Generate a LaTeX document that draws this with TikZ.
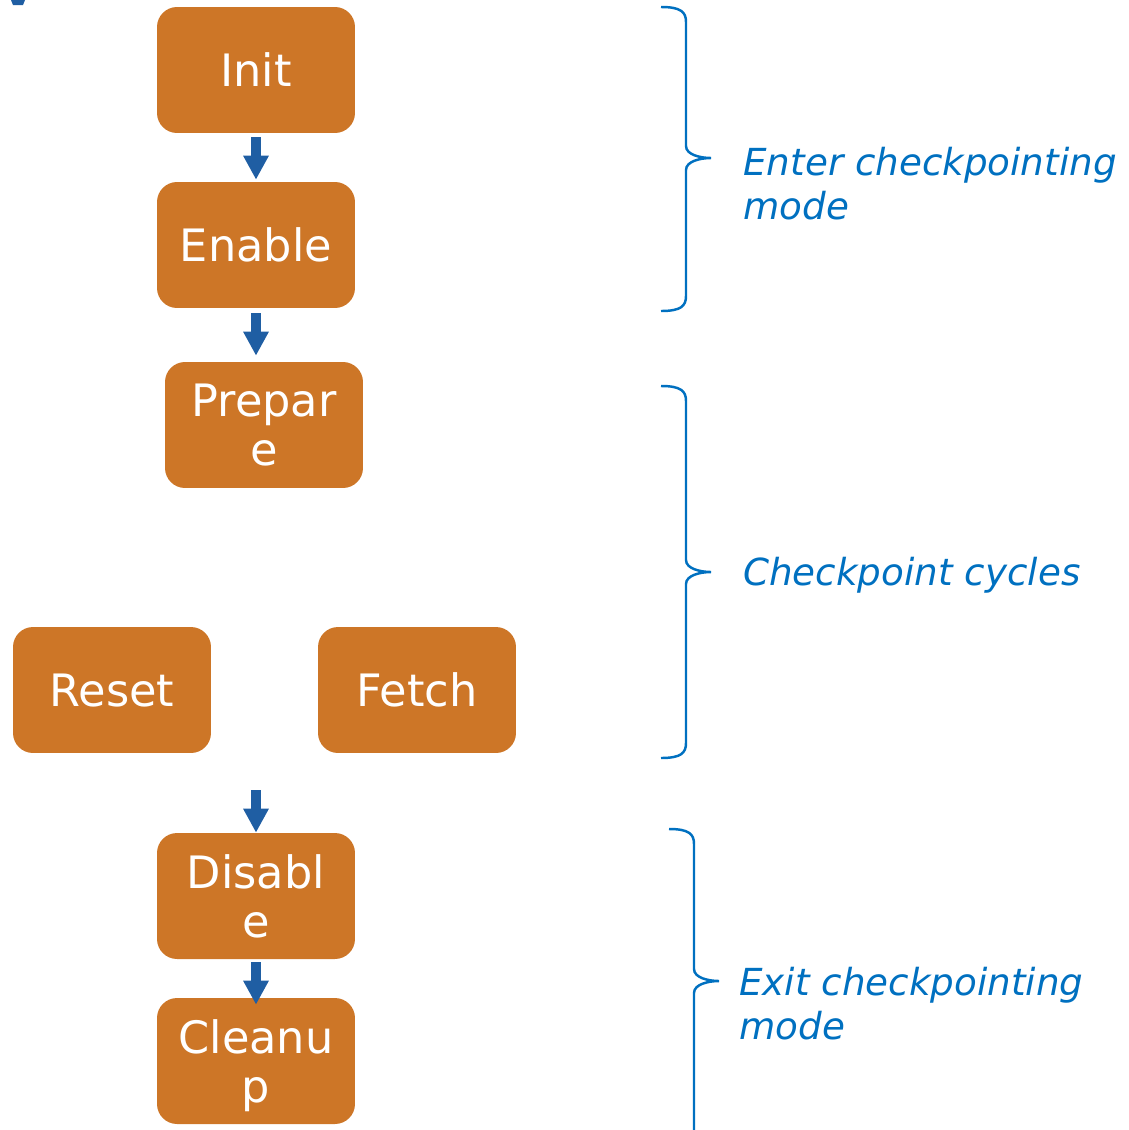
\documentclass[tikz,border=0pt]{standalone}
\usepackage{fontspec}
\setmainfont{DejaVu Sans}
\usetikzlibrary{arrows.meta,calc}
\definecolor{phaseorange}{HTML}{CD7627}
\definecolor{arrowblue}{HTML}{1F5EA3}
\definecolor{braceblue}{HTML}{0070C0}
% curly brace opening to the left: x of the ends, top, bottom, height of the tip
\newcommand{\phasebrace}[4]{
  \draw[phase brace] (#1,#2) .. controls (#1+20,#2) and (#1+25,#2+5) .. (#1+25,#2+15)
    -- (#1+25,#4-12) .. controls (#1+25,#4-3) and (#1+40,#4) .. (#1+50,#4)
    .. controls (#1+40,#4) and (#1+25,#4+3) .. (#1+25,#4+12)
    -- (#1+25,#3-15) .. controls (#1+25,#3-5) and (#1+20,#3) .. (#1,#3);
}
\begin{document}
\begin{tikzpicture}[
    x=0.02cm,y=-0.02cm,
    phase box/.style={fill=phaseorange,rounded corners=0.4cm,minimum width=3.96cm,minimum height=2.52cm,inner sep=0pt,text=white,align=center,text depth=0pt,font=\fontsize{25.4pt}{28pt}\selectfont},
    transition/.style={-{Triangle[width=0.48cm,length=0.48cm]},line width=0.19cm,draw=arrowblue},
    phase brace/.style={draw=braceblue,line width=1.4pt},
    phase label/.style={text=braceblue,anchor=base west,align=left,inner sep=0pt,font=\itshape\fontsize{21.2pt}{25pt}\selectfont},
  ]
  \useasboundingbox (0,0) rectangle (1129,1130);

  \node[phase box] (init) at (256,70) {Init};
  \node[phase box] (enable) at (256,245) {Enable};
  \node[phase box] (prepare) at (264,425) {Prepar\\e};
  \node[phase box] (reset) at (112,690) {Reset};
  \node[phase box] (fetch) at (417,690) {Fetch};
  \node[phase box] (disable) at (256,896) {Disabl\\e};
  \node[phase box] (cleanup) at (256,1061) {Cleanu\\p};

  \fill[arrowblue] (11,0) -- (25,0) -- (23,5) -- (13,5) -- cycle;

  \draw[transition,shorten <=0.08cm,shorten >=0.04cm] (init) -- (enable);
  \draw[transition,shorten <=0.1cm,shorten >=0.12cm] (enable.south) -- (enable.south |- prepare.north);
  \coordinate (disable in) at (256,790);
  \draw[transition] (disable in) -- (disable.north);
  \draw[transition,shorten <=0.06cm,shorten >=-0.14cm] (disable) -- (cleanup);

  \phasebrace{661}{7}{311}{158}
  \phasebrace{661}{386}{758}{572}
  \phasebrace{669}{829}{1145}{981}

  \node[phase label] (enter label) at (743,219) {Enter checkpointing\\mode};
  \node[phase label] (cycle label) at (743,585) {Checkpoint cycles};
  \node[phase label] (exit label) at (739,1039) {Exit checkpointing\\mode};

\end{tikzpicture}
\end{document}
